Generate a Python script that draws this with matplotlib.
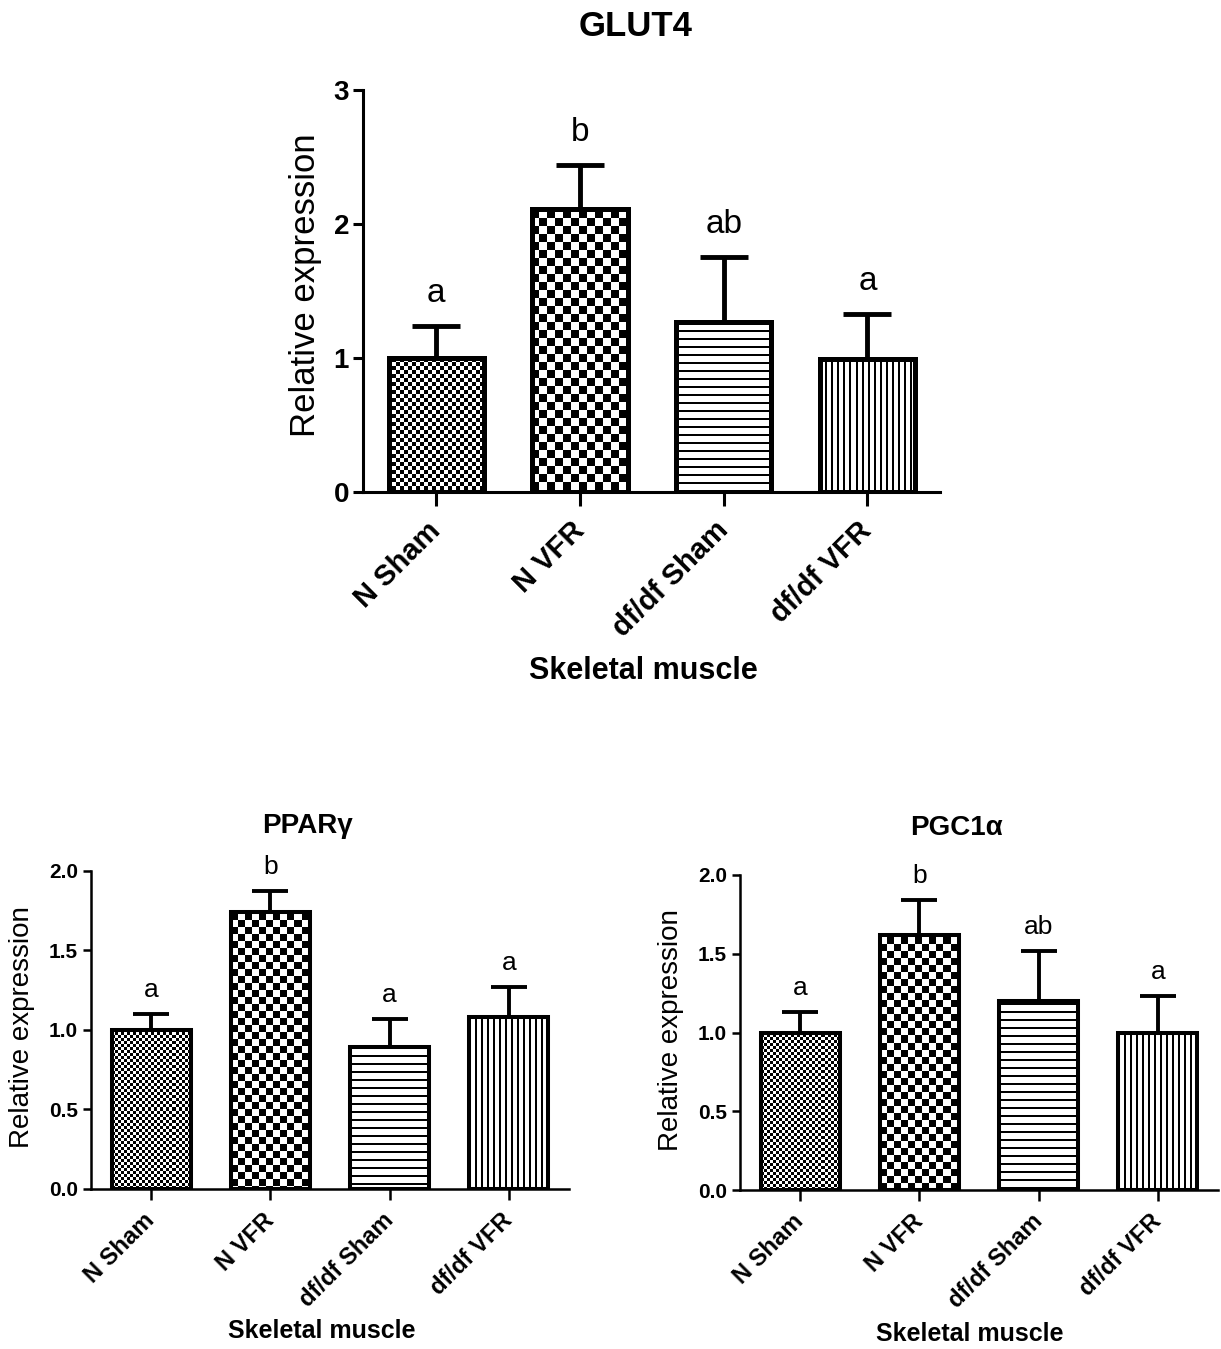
import numpy as np
import matplotlib
matplotlib.use("Agg")
import matplotlib.pyplot as plt

plt.rcParams['font.family'] = ['Liberation Sans', 'DejaVu Sans']

# ---- data ----
groups = ['N Sham', 'N VFR', 'df/df Sham', 'df/df VFR']

glut4_mean = [1.00, 2.11, 1.27, 0.99]
glut4_err = [0.24, 0.33, 0.48, 0.34]
glut4_letters = ['a', 'b', 'ab', 'a']
glut4_ticks = [0, 1, 2, 3]
glut4_ticklabels = ['0', '1', '2', '3']

pparg_mean = [1.00, 1.74, 0.89, 1.08]
pparg_err = [0.10, 0.13, 0.18, 0.19]
pparg_letters = ['a', 'b', 'a', 'a']

pgc1a_mean = [1.00, 1.62, 1.20, 1.00]
pgc1a_err = [0.13, 0.22, 0.32, 0.23]
pgc1a_letters = ['a', 'b', 'ab', 'a']

small_ticks = [0.0, 0.5, 1.0, 1.5, 2.0]
small_ticklabels = ['0.0', '0.5', '1.0', '1.5', '2.0']

# ---- figure geometry (pixels) ----
W, H, DPI = 1221, 1349, 100
fig = plt.figure(figsize=(W / DPI, H / DPI), dpi=DPI)


def px_rect(left, right, top, bottom):
    return [left / W, 1 - bottom / H, (right - left) / W, (bottom - top) / H]


def fig_text(x, y, s, **kw):
    fig.text(x / W, 1 - y / H, s, ha='center', va='center', **kw)


def make_pattern(kind, h, w, size):
    i, j = np.indices((h, w))
    if kind == 'check':
        return ((i // size + j // size) % 2).astype(float)
    if kind == 'hlines':
        return (i % size >= 2).astype(float)
    if kind == 'vlines':
        return (j % size >= 2).astype(float)
    return np.ones((h, w))


def bar_panel(rect, mean, err, letters, ticks, ticklabels, ymax, sty):
    ax = fig.add_axes(rect)
    x = np.arange(len(groups))
    xlim = (-0.51, 3.505)
    ylim = (0, ymax)

    # error bars (upper only), drawn behind the bar fill
    ax.errorbar(x, mean, yerr=[np.zeros(len(err)), err], fmt='none',
                ecolor='black', elinewidth=sty['elw'], capsize=sty['cap'],
                capthick=sty['elw'], zorder=1.5)

    bars = ax.bar(x, mean, width=0.665, facecolor='none', edgecolor='black',
                  linewidth=sty['blw'], zorder=3)

    # patterned fills, clipped to each bar
    wpx = int(round(rect[2] * W))
    hpx = int(round(rect[3] * H))
    kinds = [('check', sty['fine']), ('check', sty['coarse']),
             ('hlines', sty['hstep']), ('vlines', sty['vstep'])]
    for b, (kind, size) in zip(bars, kinds):
        b.set_joinstyle('miter')
        pat = make_pattern(kind, hpx, wpx, size)
        im = ax.imshow(pat, cmap='gray', vmin=0, vmax=1,
                       extent=(xlim[0], xlim[1], ylim[0], ylim[1]),
                       aspect='auto', interpolation='nearest', zorder=2)
        im.set_clip_path(b)

    # significance letters
    for xi, m, e, lab in zip(x, mean, err, letters):
        ax.annotate(lab, (xi, m + e), xytext=(0, sty['lgap']),
                    textcoords='offset pixels', ha='center', va='baseline',
                    fontsize=sty['lfs'])

    ax.set_xlim(*xlim)
    ax.set_ylim(*ylim)
    ax.set_aspect('auto')
    for s in ('top', 'right'):
        ax.spines[s].set_visible(False)
    for s in ('left', 'bottom'):
        ax.spines[s].set_linewidth(sty['slw'])
    ax.set_yticks(ticks)
    ax.set_yticklabels(ticklabels, fontsize=sty['yfs'], fontweight='bold')
    ax.set_xticks(x)
    ax.set_xticklabels(groups, fontsize=sty['xfs'], fontweight='bold',
                       rotation=45, ha='right', va='center',
                       rotation_mode='anchor')
    ax.tick_params(axis='y', length=sty['ytl'], width=sty['slw'], pad=3)
    ax.tick_params(axis='x', length=sty['xtl'], width=sty['slw'],
                   pad=sty['xpad'])
    return ax


big = dict(elw=3.5, cap=17, blw=3.6, slw=2.2, fine=4, coarse=8, hstep=8,
           vstep=6, lgap=24, lfs=24, yfs=20, xfs=21, ytl=7, xtl=10, xpad=15)
small = dict(elw=2.8, cap=13, blw=2.9, slw=1.8, fine=3, coarse=7, hstep=8,
             vstep=6, lgap=17, lfs=19, yfs=15, xfs=17, ytl=6, xtl=8, xpad=12)

# GLUT4 (top)
bar_panel(px_rect(363, 940, 90, 491.5), glut4_mean, glut4_err, glut4_letters,
          glut4_ticks, glut4_ticklabels, 3, big)
fig_text(636, 27, 'GLUT4', fontsize=25, fontweight='bold')
fig_text(305, 285, 'Relative expression', fontsize=25, rotation=90)
fig_text(643, 671, 'Skeletal muscle', fontsize=22, fontweight='bold')

# PPARγ (bottom left)
bar_panel(px_rect(90.5, 569, 870.7, 1189), pparg_mean, pparg_err,
          pparg_letters, small_ticks, small_ticklabels, 2.0, small)
fig_text(307, 826, 'PPARγ', fontsize=20, fontweight='bold')
fig_text(22, 1027, 'Relative expression', fontsize=20, rotation=90)
fig_text(322, 1331, 'Skeletal muscle', fontsize=18, fontweight='bold')

# PGC1α (bottom right)
bar_panel(px_rect(739.5, 1218, 875, 1190), pgc1a_mean, pgc1a_err,
          pgc1a_letters, small_ticks, small_ticklabels, 2.0, small)
fig_text(956, 828, 'PGC1α', fontsize=20, fontweight='bold')
fig_text(671, 1030, 'Relative expression', fontsize=20, rotation=90)
fig_text(970, 1334, 'Skeletal muscle', fontsize=18, fontweight='bold')

fig.savefig('out.png', dpi=DPI, facecolor='white')
